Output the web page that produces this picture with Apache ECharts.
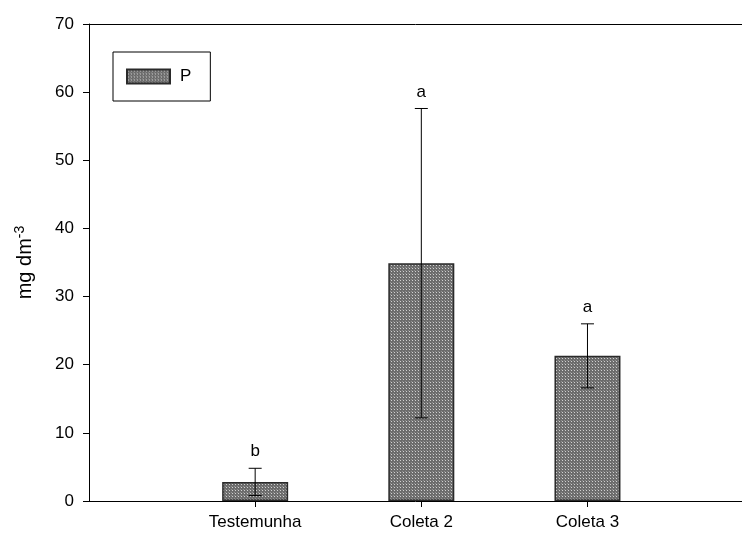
<!DOCTYPE html>
<html>
<head>
<meta charset="utf-8">
<script src="https://cdn.jsdelivr.net/npm/echarts@6/dist/echarts.min.js"></script>
<style>
  html, body { margin: 0; padding: 0; background: #fff; }
  #chart { width: 742px; height: 533px; }
</style>
</head>
<body>
<div id="chart"></div>
<script>
// values
const categories = ['Testemunha', 'Coleta 2', 'Coleta 3']
const positions = [1, 2, 3]
const means = [2.8, 34.9, 21.3]
const errors = [2.0, 22.7, 4.7]
const letters = ['b', 'a', 'a']
const yTicks = [0, 10, 20, 30, 40, 50, 60, 70]

const FONT = 'Liberation Sans, Arial, sans-serif'

// dotted grey fill like the original hatch
function makePattern() {
  const c = document.createElement('canvas')
  c.width = 3; c.height = 3
  const ctx = c.getContext('2d')
  ctx.fillStyle = '#6c6c6c'
  ctx.fillRect(0, 0, 3, 3)
  ctx.fillStyle = '#d0d0d0'
  ctx.fillRect(1, 1, 1, 1)
  ctx.fillStyle = '#909090'
  ctx.fillRect(0, 0, 1, 1)
  return c
}

const chart = echarts.init(document.getElementById('chart'), null, { renderer: 'canvas' })

const barData = positions.map((p, i) => [p, means[i]])
const errData = positions.map((p, i) => [p, means[i], errors[i], i])

const axisBlack = { color: '#000', width: 1 }

chart.setOption({
  animation: false,
  backgroundColor: '#fff',
  grid: { left: 89, right: 0, top: 24, bottom: 32 },
  legend: {
    data: ['P'],
    left: 113, top: 52,
    icon: 'rect',
    itemWidth: 43, itemHeight: 14,
    padding: [16, 19, 16, 13],
    borderColor: '#000', borderWidth: 1,
    textStyle: { fontFamily: FONT, fontSize: 17, color: '#000', padding: [0, 0, 0, 5] }
  },
  xAxis: [
    {
      type: 'value',
      min: 0, max: 3.93, interval: 1,
      splitLine: { show: false },
      axisLine: { show: true, onZero: false, lineStyle: axisBlack },
      axisTick: { show: true, length: 6, customValues: positions, lineStyle: { color: '#000' } },
      axisLabel: {
        customValues: positions,
        margin: 13,
        fontFamily: FONT, fontSize: 17, color: '#000',
        formatter: v => categories[positions.indexOf(v)] || ''
      }
    },
    {
      // top frame line only
      type: 'value', position: 'top',
      min: 0, max: 3.93,
      splitLine: { show: false },
      axisLine: { show: true, onZero: false, lineStyle: axisBlack },
      axisTick: { show: false },
      axisLabel: { show: false }
    }
  ],
  yAxis: {
    type: 'value',
    min: 0, max: 70, interval: 10,
    splitLine: { show: false },
    axisLine: { show: true, lineStyle: axisBlack },
    axisTick: { show: true, length: 6, lineStyle: { color: '#000' } },
    axisLabel: {
      margin: 15, fontFamily: FONT, fontSize: 17, color: '#000',
      formatter: v => yTicks.includes(v) ? String(v) : ''
    },
    name: '{a|mg dm}{b|-3}',
    nameLocation: 'middle',
    nameRotate: 90,
    nameGap: 52,
    nameTextStyle: {
      fontFamily: FONT, fontSize: 20, color: '#000',
      rich: {
        a: { fontFamily: FONT, fontSize: 20, color: '#000', lineHeight: 24 },
        b: { fontFamily: FONT, fontSize: 14, color: '#000', verticalAlign: 'top', lineHeight: 24, padding: [0, 0, 10, 0] }
      }
    }
  },
  series: [
    {
      name: 'P',
      type: 'bar',
      barWidth: 66,
      data: barData,
      itemStyle: {
        color: { image: makePattern(), repeat: 'repeat' },
        borderColor: '#2a2a2a',
        borderWidth: 1.5
      }
    },
    {
      name: 'err',
      type: 'custom',
      data: errData,
      z: 5,
      renderItem: (params, api) => {
        const x = api.value(0)
        const m = api.value(1)
        const e = api.value(2)
        const idx = api.value(3)
        const top = api.coord([x, m + e])
        const bot = api.coord([x, m - e])
        const hw = 6.5
        const style = { stroke: '#000', lineWidth: 1 }
        return {
          type: 'group',
          children: [
            { type: 'line', shape: { x1: top[0], y1: top[1], x2: bot[0], y2: bot[1] }, style },
            { type: 'line', shape: { x1: top[0] - hw, y1: top[1], x2: top[0] + hw, y2: top[1] }, style },
            { type: 'line', shape: { x1: bot[0] - hw, y1: bot[1], x2: bot[0] + hw, y2: bot[1] }, style },
            {
              type: 'text',
              style: {
                x: top[0], y: top[1] - 8,
                text: letters[idx],
                fill: '#000',
                font: '17px ' + FONT,
                align: 'center', verticalAlign: 'bottom'
              }
            }
          ]
        }
      }
    }
  ]
})
</script>
</body>
</html>
